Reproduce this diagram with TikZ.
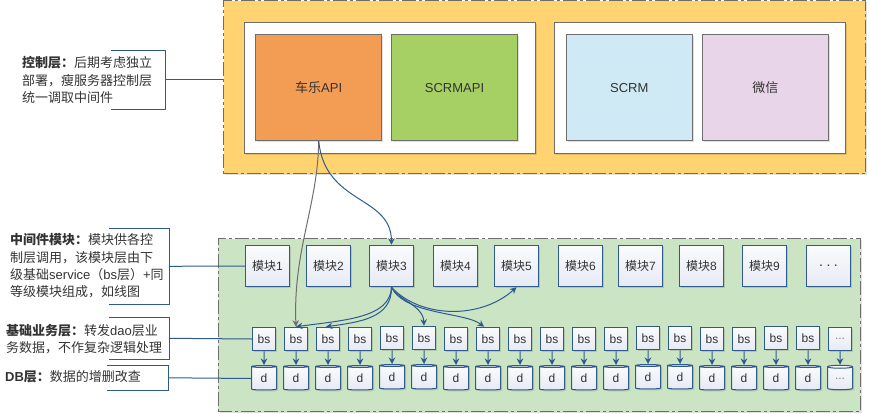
\documentclass[tikz,border=0pt]{standalone}
\usepackage{fontspec}
\usepackage{tikz}
\usetikzlibrary{shapes.geometric,shadows,arrows.meta}
\setmainfont{Liberation Sans}
\newfontfamily\cjk{Noto Sans CJK SC}
\newcommand{\zh}[1]{{\cjk #1}}
\definecolor{bluedge}{HTML}{2F5A90}
\definecolor{grayedge}{HTML}{6E6E6E}
\definecolor{inktext}{HTML}{333333}
\definecolor{boxtop}{HTML}{FAFBFD}
\definecolor{boxbottom}{HTML}{E6EAF4}
\definecolor{ctrlfill}{HTML}{FFD36F}
\definecolor{midfill}{HTML}{CBE4C3}
\definecolor{apifill}{HTML}{F39C53}
\definecolor{scrmapifill}{HTML}{A6D064}
\definecolor{scrmfill}{HTML}{CFE9F5}
\definecolor{wechatfill}{HTML}{E9D5E9}
\begin{document}
\begin{tikzpicture}[x=1pt, y=-1pt, node distance={32pt},
  softshadow/.style = {drop shadow={shadow xshift=1.5pt, shadow yshift=-1.5pt, fill=black, opacity=.12}},
  layer/.style = {draw=grayedge, line width=1pt, dash pattern=on 14pt off 3pt on 3pt off 3pt, minimum width=642pt, minimum height=173pt, softshadow},
  group/.style = {draw=grayedge, line width=1pt, fill=white, minimum width=291pt, minimum height=131pt, softshadow},
  app/.style = {draw=grayedge, line width=1pt, minimum width=126.5pt, minimum height=105.5pt, text=inktext, font=\fontsize{13}{15}\selectfont, softshadow},
  mod/.style = {draw=bluedge, line width=1pt, top color=boxtop, bottom color=boxbottom, minimum width=44.5pt, minimum height=41.5pt, inner sep=0pt, text=inktext, font=\fontsize{12}{14}\selectfont, softshadow},
  bs/.style = {mod, minimum width=23.5pt, minimum height=23.5pt},
  db/.style = {cylinder, shape border rotate=90, shape aspect=.3, draw=bluedge, line width=1pt, top color=boxtop, bottom color=boxbottom, minimum width=25pt, minimum height=24.5pt, inner sep=0pt, text=inktext, font=\fontsize{12}{14}\selectfont, softshadow},
  note/.style = {align=left, anchor=west, inner sep=0pt, text=inktext, font=\fontsize{13}{17.3}\selectfont},
  hook/.style = {minimum width=1pt, inner sep=0pt},
  bracket/.style = {draw=bluedge, line width=1pt},
  flow/.style = {draw=bluedge, line width=1pt, -{Stealth[length=6.5pt,width=6.5pt]}},
  graycall/.style = {draw=grayedge, line width=1pt, -{Stealth[length=6.5pt,width=6.5pt]}}]
\useasboundingbox (0,0) rectangle (869,414);
% layers
\node[layer, fill=ctrlfill] (control) at (544.5,87.5) {};
\node[layer, fill=midfill] (middle) at (539,325.3) {};
\node[group] (left) at (390,88) {};
\node[group] (right) at (700,88) {};
% control layer
\node[app, fill=apifill] (api) at (318.7,87.7) {\zh{车乐}API};
\node[app, fill=scrmapifill] (scrmapi) at (454.5,87.7) {SCRMAPI};
\node[app, fill=scrmfill] (scrm) at (629.3,87.7) {SCRM};
\node[app, fill=wechatfill] (wechat) at (765.3,87.7) {\zh{微信}};
% modules
\node[mod] (m1) at (267.5,266) {\zh{模块}1};
\node[mod] (m2) [right of=m1, node distance=61pt] {\zh{模块}2};
\node[mod] (m3) [right of=m2, node distance=63pt] {\zh{模块}3};
\node[mod] (m4) [right of=m3, node distance=64pt] {\zh{模块}4};
\node[mod] (m5) [right of=m4, node distance=61pt] {\zh{模块}5};
\node[mod] (m6) [right of=m5, node distance=64pt] {\zh{模块}6};
\node[mod] (m7) [right of=m6, node distance=60pt] {\zh{模块}7};
\node[mod] (m8) [right of=m7, node distance=61pt] {\zh{模块}8};
\node[mod] (m9) [right of=m8, node distance=63pt] {\zh{模块}9};
\node[mod] (m10) [right of=m9, node distance=64pt] {\fontsize{14}{14}\selectfont .\hspace{3.5pt}.\hspace{3.5pt}.};
% bs row
\node[bs] (b1) at (264,339) {bs};
\node[bs] (b2) [right of=b1] {bs};
\node[bs] (b3) [right of=b2] {bs};
\node[bs] (b4) [right of=b3] {bs};
\node[bs] (b5) [right of=b4, yshift=1pt] {bs};
\node[bs] (b6) [right of=b5] {bs};
\node[bs] (b7) [right of=b6, yshift=-1pt] {bs};
\node[bs] (b8) [right of=b7] {bs};
\node[bs] (b9) [right of=b8] {bs};
\node[bs] (b10) [right of=b9] {bs};
\node[bs] (b11) [right of=b10] {bs};
\node[bs] (b12) [right of=b11] {bs};
\node[bs] (b13) [right of=b12, yshift=1pt] {bs};
\node[bs] (b14) [right of=b13] {bs};
\node[bs] (b15) [right of=b14, yshift=-1pt] {bs};
\node[bs] (b16) [right of=b15] {bs};
\node[bs] (b17) [right of=b16, yshift=1pt] {bs};
\node[bs] (b18) [right of=b17] {bs};
\node[bs] (b19) [right of=b18, yshift=-1pt, text=gray] {...};
% db row
\node[db] (d1) at (264,378.5) {d};
\node[db] (d2) [right of=d1] {d};
\node[db] (d3) [right of=d2] {d};
\node[db] (d4) [right of=d3] {d};
\node[db] (d5) [right of=d4, yshift=1pt] {d};
\node[db] (d6) [right of=d5] {d};
\node[db] (d7) [right of=d6, yshift=-1pt] {d};
\node[db] (d8) [right of=d7] {d};
\node[db] (d9) [right of=d8] {d};
\node[db] (d10) [right of=d9] {d};
\node[db] (d11) [right of=d10] {d};
\node[db] (d12) [right of=d11] {d};
\node[db] (d13) [right of=d12, yshift=1pt] {d};
\node[db] (d14) [right of=d13] {d};
\node[db] (d15) [right of=d14, yshift=-1pt] {d};
\node[db] (d16) [right of=d15] {d};
\node[db] (d17) [right of=d16] {d};
\node[db] (d18) [right of=d17] {d};
\node[db] (d19) [right of=d18, text=gray] {...};
% bs to db
\draw[flow] (b1) -- (d1);
\draw[flow] (b2) -- (d2);
\draw[flow] (b3) -- (d3);
\draw[flow] (b4) -- (d4);
\draw[flow] (b5) -- (d5);
\draw[flow] (b6) -- (d6);
\draw[flow] (b7) -- (d7);
\draw[flow] (b8) -- (d8);
\draw[flow] (b9) -- (d9);
\draw[flow] (b10) -- (d10);
\draw[flow] (b11) -- (d11);
\draw[flow] (b12) -- (d12);
\draw[flow] (b13) -- (d13);
\draw[flow] (b14) -- (d14);
\draw[flow] (b15) -- (d15);
\draw[flow] (b16) -- (d16);
\draw[flow] (b17) -- (d17);
\draw[flow] (b18) -- (d18);
\draw[flow] (b19) -- (d19);
% calls
\draw[graycall] (api.south) .. controls (318,205) and (293,250) .. (b2.north);
\draw[flow] (api.south) .. controls (325,205) and (391,195) .. (m3.north);
\draw[flow] (m3.south) .. controls (390,318) and (345,320) .. (b2.north);
\draw[flow] (m3.south) .. controls (392,318) and (360,322) .. ([xshift=-2pt]b3.north);
\draw[flow] (m3.south) .. controls (398,300) and (423,305) .. (b6.north);
\draw[flow] (m3.south) .. controls (405,315) and (465,312) .. ([xshift=-4pt]b8.north);
\draw[flow] (m3.south) .. controls (420,318) and (480,320) .. (m5.south);
% notes
\node[note] (ctrltext) at (22,80) {\zh{\textbf{控制层：}后期考虑独立}\\\zh{部署，瘦服务器控制层}\\\zh{统一调取中间件}};
\node[note] (modtext) at (10,266) {\zh{\textbf{中间件模块：}模块供各控}\\\zh{制层调用，该模块层由下}\\\zh{级基础}service\zh{（}bs\zh{层）}+\zh{同}\\\zh{等级模块组成，如线图}};
\node[note] (bstext) at (6,339) {\zh{\textbf{基础业务层：}转发}dao\zh{层业}\\\zh{务数据，不作复杂逻辑处理}};
\node[note] (dbtext) at (5,377) {\textbf{DB}\zh{\textbf{层：}数据的增删改查}};
% brackets
\node[hook, minimum width=54.7pt, minimum height=59pt] (ctrlhook) at (138.3,79.8) {};
\node[hook, minimum width=60pt, minimum height=76pt] (modhook) at (139.3,266.3) {};
\node[hook, minimum width=60pt, minimum height=42pt] (bshook) at (139.3,338.3) {};
\node[hook, minimum width=61.4pt, minimum height=25pt] (dbhook) at (138,377.8) {};
\draw[bracket] (ctrlhook.north west) -- (ctrlhook.north east) -- (ctrlhook.south east) -- (ctrlhook.south west);
\draw[bracket] (modhook.north west) -- (modhook.north east) -- (modhook.south east) -- (modhook.south west);
\draw[bracket] (bshook.north west) -- (bshook.north east) -- (bshook.south east) -- (bshook.south west);
\draw[bracket] (dbhook.north west) -- (dbhook.north east) -- (dbhook.south east) -- (dbhook.south west);
\draw[bracket] (ctrlhook.east) -- (ctrlhook.east -| control.west);
\draw[bracket] (modhook.east) -- (m1.west);
\draw[bracket] (bshook.east) -- (b1.west);
\draw[bracket] (dbhook.east) -- (d1.west);
\end{tikzpicture}
\end{document}
